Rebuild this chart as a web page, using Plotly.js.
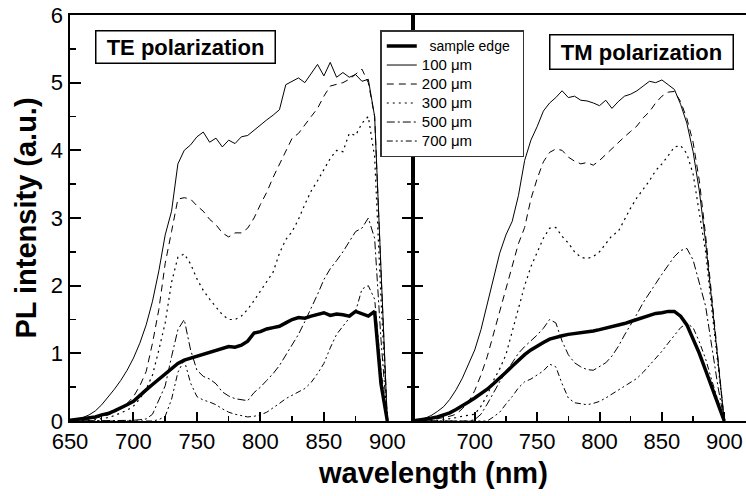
<!DOCTYPE html>
<html>
<head>
<meta charset="utf-8">
<script src="https://cdn.plot.ly/plotly-3.0.1.min.js"></script>
<style>html,body{margin:0;padding:0;background:#fff;}#chart{width:746px;height:496px;}</style>
</head>
<body>
<div id="chart"></div>
<script>
// wavelength grid (nm)
const wl = [650,655,660,665,670,675,680,685,690,695,
            700,705,710,715,720,725,730,735,740,745,
            750,755,760,765,770,775,780,785,790,795,
            800,805,810,815,820,825,830,835,840,845,
            850,855,860,865,870,875,880,885,890,895,900];

const seriesNames = ['sample edge','100 μm','200 μm','300 μm','500 μm','700 μm'];

// TE polarization
const teEdge = [0.01,0.02,0.03,0.04,0.06,0.09,0.11,0.15,0.19,0.24,
                0.29,0.38,0.46,0.54,0.62,0.70,0.77,0.85,0.90,0.93,
                0.96,0.98,1.02,1.05,1.08,1.10,1.09,1.12,1.18,1.30,
                1.32,1.36,1.38,1.40,1.45,1.50,1.53,1.52,1.55,1.58,
                1.60,1.56,1.58,1.57,1.55,1.62,1.58,1.55,1.62,0.55,0];
const te100 = [0,0.02,0.05,0.09,0.15,0.24,0.35,0.47,0.60,0.75,
               0.93,1.15,1.42,1.77,2.22,2.75,3.10,3.80,4.00,4.08,
               4.20,4.27,4.12,4.18,4.05,4.15,4.10,4.20,4.22,4.30,
               4.38,4.45,4.52,4.60,4.97,5.02,5.07,5.00,5.14,5.27,
               5.10,5.30,5.08,5.15,5.08,5.12,5.02,5.05,4.50,2.30,0];
const te200 = [0,0,0.01,0.02,0.04,0.06,0.09,0.13,0.19,0.26,
               0.36,0.52,0.73,1.15,1.65,2.33,2.80,3.28,3.30,3.28,
               3.18,3.10,2.98,2.90,2.78,2.72,2.78,2.78,2.85,3.00,
               3.20,3.38,3.60,3.80,3.98,4.18,4.25,4.38,4.50,4.62,
               4.80,4.95,4.97,5.00,5.05,5.13,5.20,5.00,4.50,2.20,0];
const te300 = [0,0,0,0.01,0.02,0.03,0.05,0.08,0.12,0.16,
               0.22,0.33,0.47,0.68,1.05,1.45,2.05,2.42,2.47,2.32,
               2.10,1.93,1.80,1.68,1.57,1.50,1.50,1.55,1.65,1.78,
               1.92,2.05,2.20,2.48,2.68,2.80,2.98,3.20,3.40,3.55,
               3.72,3.88,4.00,3.98,4.25,4.22,4.40,4.50,3.90,1.80,0];
const te500 = [0,0,0,0,0,0,0,0,0,0.01,
               0.01,0.02,0.03,0.10,0.30,0.52,0.95,1.35,1.50,1.05,
               0.75,0.66,0.62,0.55,0.43,0.37,0.33,0.31,0.30,0.42,
               0.50,0.60,0.70,0.82,0.97,1.12,1.28,1.47,1.66,1.87,
               2.09,2.25,2.37,2.50,2.65,2.80,2.85,3.00,2.70,1.20,0];
const te700 = [0,0,0,0,0,0,0,0,0,0,
               0,0,0,0,0.02,0.07,0.32,0.72,0.90,0.56,
               0.36,0.31,0.28,0.24,0.18,0.13,0.10,0.08,0.06,0.07,
               0.09,0.13,0.19,0.26,0.33,0.38,0.42,0.48,0.57,0.70,
               0.85,1.08,1.28,1.40,1.52,1.62,1.95,2.00,1.80,0.75,0];

// TM polarization
const tmEdge = [0,0.01,0.02,0.04,0.06,0.09,0.12,0.17,0.22,0.28,
                0.34,0.40,0.47,0.55,0.63,0.72,0.81,0.90,0.98,1.05,
                1.11,1.16,1.21,1.24,1.26,1.28,1.29,1.30,1.31,1.33,
                1.35,1.37,1.39,1.42,1.44,1.47,1.50,1.53,1.56,1.59,
                1.60,1.62,1.62,1.55,1.42,1.22,1.00,0.75,0.50,0.22,0];
const tm100 = [0,0.01,0.04,0.08,0.14,0.21,0.32,0.46,0.63,0.83,
               1.05,1.35,1.72,2.07,2.48,2.75,2.95,3.33,3.85,4.15,
               4.35,4.58,4.70,4.78,4.88,4.78,4.80,4.74,4.73,4.70,
               4.66,4.74,4.62,4.72,4.80,4.83,4.88,4.95,5.02,5.00,
               5.04,4.97,4.90,4.68,4.40,3.98,3.40,2.65,1.78,0.90,0];
const tm200 = [0,0,0.01,0.02,0.03,0.05,0.07,0.10,0.18,0.28,
               0.45,0.68,0.95,1.28,1.60,1.93,2.25,2.62,2.86,3.28,
               3.58,3.83,3.97,4.02,4.00,3.90,3.84,3.80,3.82,3.78,
               3.85,3.94,4.02,4.12,4.20,4.28,4.36,4.48,4.57,4.70,
               4.80,4.86,4.87,4.72,4.47,4.12,3.55,2.75,1.85,0.90,0];
const tm300 = [0,0,0,0,0.01,0.02,0.03,0.05,0.07,0.08,
               0.10,0.22,0.38,0.60,0.77,0.98,1.32,1.64,2.00,2.28,
               2.50,2.70,2.85,2.86,2.73,2.63,2.50,2.42,2.40,2.43,
               2.50,2.62,2.74,2.80,2.98,3.15,3.30,3.42,3.55,3.70,
               3.80,3.92,4.05,4.07,3.95,3.65,3.10,2.50,1.65,0.80,0];
const tm500 = [0,0,0,0,0,0,0,0,0,0,
               0.02,0.10,0.25,0.42,0.58,0.72,0.86,1.00,1.10,1.18,
               1.27,1.37,1.50,1.45,1.18,0.98,0.86,0.80,0.76,0.75,
               0.80,0.86,0.96,1.10,1.27,1.42,1.58,1.75,1.90,2.03,
               2.17,2.30,2.43,2.52,2.55,2.38,2.05,1.70,1.10,0.50,0];
const tm700 = [0,0,0,0,0,0,0,0,0,0,
               0,0,0,0.06,0.13,0.25,0.36,0.49,0.58,0.62,
               0.68,0.74,0.84,0.80,0.55,0.34,0.27,0.25,0.24,0.26,
               0.29,0.34,0.40,0.46,0.52,0.57,0.63,0.72,0.82,0.92,
               1.03,1.15,1.27,1.38,1.44,1.38,1.17,0.92,0.60,0.30,0];

const teSeries = [teEdge, te100, te200, te300, te500, te700];
const tmSeries = [tmEdge, tm100, tm200, tm300, tm500, tm700];

const styles = [
  {width: 3.5, dash: 'solid'},
  {width: 1, dash: 'solid'},
  {width: 1, dash: '7px,5px'},
  {width: 1.2, dash: '2px,4px'},
  {width: 1, dash: '8px,3px,2px,3px'},
  {width: 1, dash: '6px,3px,2px,3px,2px,3px'}
];

const FONT = 'Arial, "Liberation Sans", Helvetica, sans-serif';
const traces = [];
teSeries.forEach((ys, i) => {
  const label = i === 0
    ? '<span style="font-size:14px">\u00a0\u00a0' + seriesNames[i] + '\u00a0\u00a0</span>'
    : '<span style="font-size:15px">' + seriesNames[i] + '</span>';
  traces.push({x: wl, y: ys, xaxis: 'x', yaxis: 'y', mode: 'lines', name: label,
    line: {color: '#000', width: styles[i].width, dash: styles[i].dash}, showlegend: true});
});
tmSeries.forEach((ys, i) => {
  traces.push({x: wl, y: ys, xaxis: 'x2', yaxis: 'y2', mode: 'lines', name: seriesNames[i],
    line: {color: '#000', width: styles[i].width, dash: styles[i].dash}, showlegend: false});
});

const split = 0.507;
const layout = {
  width: 746, height: 496,
  margin: {l: 70, r: 0, t: 15, b: 75},
  paper_bgcolor: '#fff', plot_bgcolor: '#fff',
  font: {family: FONT, color: '#000', size: 22},
  showlegend: true,
  legend: {x: 0.459, y: 0.963, xanchor: 'left', yanchor: 'top',
    bgcolor: '#fff', bordercolor: '#333', borderwidth: 1.5,
    font: {family: FONT, size: 12, color: '#000'}, tracegroupgap: 0},
  xaxis: {domain: [0, split], range: [650, 920], anchor: 'y',
    tick0: 650, dtick: 50, ticks: 'inside', ticklen: 9, tickwidth: 2, tickcolor: '#000',
    minor: {dtick: 25, tick0: 650, ticks: 'inside', ticklen: 5, tickwidth: 1.5, tickcolor: '#000'},
    showline: true, linewidth: 2, linecolor: '#000', mirror: true,
    showgrid: false, zeroline: false,
    tickfont: {size: 22, family: FONT}},
  xaxis2: {domain: [split, 1], range: [650.3, 917.4], anchor: 'y2',
    tick0: 650, dtick: 50, ticks: 'inside', ticklen: 9, tickwidth: 2, tickcolor: '#000',
    minor: {dtick: 25, tick0: 650, ticks: 'inside', ticklen: 5, tickwidth: 1.5, tickcolor: '#000'},
    showline: true, linewidth: 2, linecolor: '#000', mirror: true,
    showgrid: false, zeroline: false,
    tickfont: {size: 22, family: FONT}},
  yaxis: {domain: [0, 1], range: [0, 6], anchor: 'x',
    tick0: 0, dtick: 1, ticks: 'inside', ticklen: 11, tickwidth: 2, tickcolor: '#000',
    minor: {dtick: 0.5, tick0: 0, ticks: 'inside', ticklen: 6, tickwidth: 1.5, tickcolor: '#000'},
    showline: true, linewidth: 2.5, linecolor: '#000', mirror: 'ticks',
    showgrid: false, zeroline: false,
    tickfont: {size: 22, family: FONT},
    title: {text: '<b>PL intensity (a.u.)</b>', font: {size: 29, family: FONT}, standoff: 6}},
  yaxis2: {domain: [0, 1], range: [0, 6], anchor: 'x2',
    tick0: 0, dtick: 1, ticks: 'inside', ticklen: 10, tickwidth: 2, tickcolor: '#000',
    minor: {dtick: 0.5, tick0: 0, ticks: 'inside', ticklen: 6, tickwidth: 1.5, tickcolor: '#000'},
    showline: true, linewidth: 2, linecolor: '#000', mirror: false,
    showgrid: false, zeroline: false, showticklabels: false},
  annotations: [
    {text: '<b>TE polarization</b>', xref: 'paper', yref: 'paper', x: 0.1706, y: 0.9204,
     xanchor: 'center', yanchor: 'middle', showarrow: false,
     font: {size: 22, family: FONT, color: '#000'},
     width: 176, height: 29, borderpad: 1, bordercolor: '#000', borderwidth: 1.5, bgcolor: '#fff'},
    {text: '<b>TM polarization</b>', xref: 'paper', yref: 'paper', x: 0.8447, y: 0.910,
     xanchor: 'center', yanchor: 'middle', showarrow: false,
     font: {size: 22, family: FONT, color: '#000'},
     width: 180, height: 31, borderpad: 1, bordercolor: '#000', borderwidth: 1.5, bgcolor: '#fff'},
    {text: '<b>wavelength (nm)</b>', xref: 'paper', yref: 'paper', x: 0.537, y: -0.128,
     xanchor: 'center', yanchor: 'middle', showarrow: false,
     font: {size: 29, family: FONT, color: '#000'}}
  ]
};

Plotly.newPlot('chart', traces, layout, {staticPlot: true, displayModeBar: false});
</script>
</body>
</html>
